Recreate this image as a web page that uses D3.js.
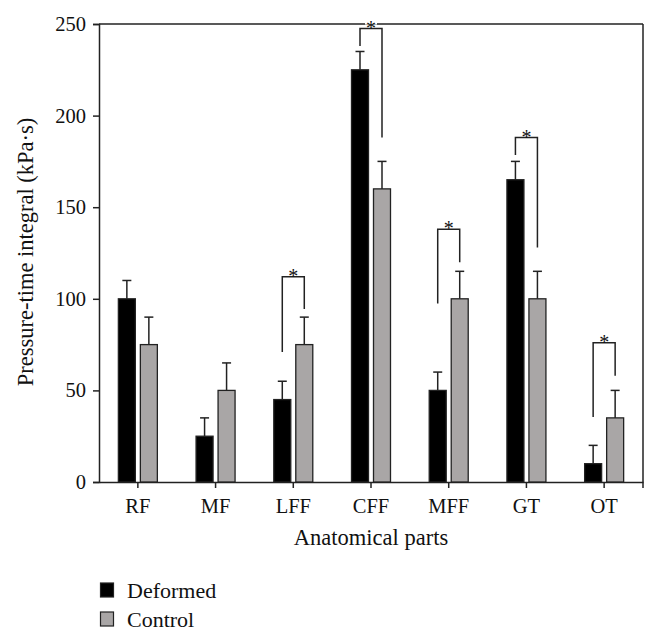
<!DOCTYPE html>
<html><head><meta charset="utf-8">
<script src="https://cdn.jsdelivr.net/npm/d3@7"></script>
<style>body{margin:0;background:#fff}svg{display:block}text{font-family:"Liberation Serif","DejaVu Serif",serif;fill:#111}</style>
</head><body>
<svg id="c" width="658" height="639"></svg>
<script>
const categories = ["RF","MF","LFF","CFF","MFF","GT","OT"];
const deformed = [100, 25, 45, 225, 50, 165, 10];
const deformedErr = [10, 10, 10, 10, 10, 10, 10];
const control = [75, 50, 75, 160, 100, 100, 35];
const controlErr = [15, 15, 15, 15, 15, 15, 15];
const yTicks = [0, 50, 100, 150, 200, 250];
// significance brackets: [category, top, left leg end, right leg end]
const sigCats = ["LFF","CFF","MFF","GT","OT"];
const sigTop = [112, 247.5, 138, 188, 76];
const sigLeft = [71, 238, 97.5, 178.5, 35.5];
const sigRight = [94.5, 188, 120, 128, 58];
const seriesNames = ["Deformed","Control"];
const colors = ["#000000","#a9a6a6"];

const svg = d3.select("#c");
const L = 99, R = 643, T = 24, B = 482;
const x = d3.scaleBand().domain(categories).range([L, R]);
const y = d3.scaleLinear().domain([0, 250]).range([B, T]);
const bw = 17, gap = 5;
const cx = (c, s) => x(c) + x.bandwidth()/2 + (s === 0 ? -(gap/2 + bw/2) : (gap/2 + bw/2));

const g = svg.append("g");
// frame top/right
g.append("line").attr("x1", L).attr("x2", R).attr("y1", T).attr("y2", T).attr("stroke", "#222").attr("stroke-width", 1.5);
g.append("line").attr("x1", R).attr("x2", R).attr("y1", T).attr("y2", B).attr("stroke", "#222").attr("stroke-width", 1.5);

// axes
const ya = g.append("g").attr("transform", `translate(${L},0)`)
  .call(d3.axisLeft(y).tickValues(yTicks).tickSize(6).tickPadding(7));
const xa = g.append("g").attr("transform", `translate(0,${B})`)
  .call(d3.axisBottom(x).tickSize(6).tickPadding(8).tickSizeOuter(0));
[ya, xa].forEach(a => {
  a.select(".domain").attr("stroke", "#222").attr("stroke-width", 1.5);
  a.selectAll(".tick line").attr("stroke", "#222").attr("stroke-width", 1.5);
  a.selectAll("text").style("font-size", "20.5px").attr("fill", "#111");
});
xa.selectAll(".tick text").attr("dy", "0.85em");
// end tick at right
g.append("line").attr("x1", R).attr("x2", R).attr("y1", B).attr("y2", B + 6).attr("stroke", "#222").attr("stroke-width", 1.5);

const series = [deformed, control];
const errs = [deformedErr, controlErr];
series.forEach((vals, s) => {
  const grp = g.append("g");
  grp.selectAll("line.err").data(categories).join("line")
    .attr("x1", (c) => cx(c, s)).attr("x2", (c) => cx(c, s))
    .attr("y1", (c, i) => y(vals[i])).attr("y2", (c, i) => y(vals[i] + errs[s][i]))
    .attr("stroke", "#222").attr("stroke-width", 1.5);
  grp.selectAll("line.cap").data(categories).join("line")
    .attr("x1", (c) => cx(c, s) - 4.5).attr("x2", (c) => cx(c, s) + 4.5)
    .attr("y1", (c, i) => y(vals[i] + errs[s][i])).attr("y2", (c, i) => y(vals[i] + errs[s][i]))
    .attr("stroke", "#222").attr("stroke-width", 1.5);
  grp.selectAll("rect").data(categories).join("rect")
    .attr("x", (c) => cx(c, s) - bw/2).attr("width", bw)
    .attr("y", (c, i) => y(vals[i])).attr("height", (c, i) => B - y(vals[i]))
    .attr("fill", colors[s]).attr("stroke", "#222").attr("stroke-width", 1.3);
});

// brackets
sigCats.forEach((c, i) => {
  const x1 = cx(c, 0), x2 = cx(c, 1);
  g.append("path")
    .attr("d", `M${x1},${y(sigLeft[i])}V${y(sigTop[i])}H${x2}V${y(sigRight[i])}`)
    .attr("fill", "none").attr("stroke", "#222").attr("stroke-width", 1.5);
  const tx = (x1 + x2) / 2, ty = y(sigTop[i]) - 3;
  if (c === "CFF") g.append("rect").attr("x", tx - 6).attr("y", ty - 9).attr("width", 12).attr("height", 8).attr("fill", "#fff");
  g.append("text").attr("x", tx).attr("y", ty + 9).attr("text-anchor", "middle")
    .style("font-size", "20px").text("*");
});

// axis titles
svg.append("text").attr("x", 371).attr("y", 545).attr("text-anchor", "middle").style("font-size", "22.5px").text("Anatomical parts");
svg.append("text").attr("transform", `translate(33,252) rotate(-90)`).attr("text-anchor", "middle").style("font-size", "22.5px").text("Pressure-time integral (kPa·s)");

// legend
seriesNames.forEach((n, i) => {
  const ly = 583 + i * 29;
  svg.append("rect").attr("x", 100.5).attr("y", ly).attr("width", 13).attr("height", 14).attr("fill", colors[i]).attr("stroke", "#222").attr("stroke-width", 1.2);
  svg.append("text").attr("x", 127).attr("y", ly + 15).style("font-size", "22px").text(n);
});
</script>
</body></html>
